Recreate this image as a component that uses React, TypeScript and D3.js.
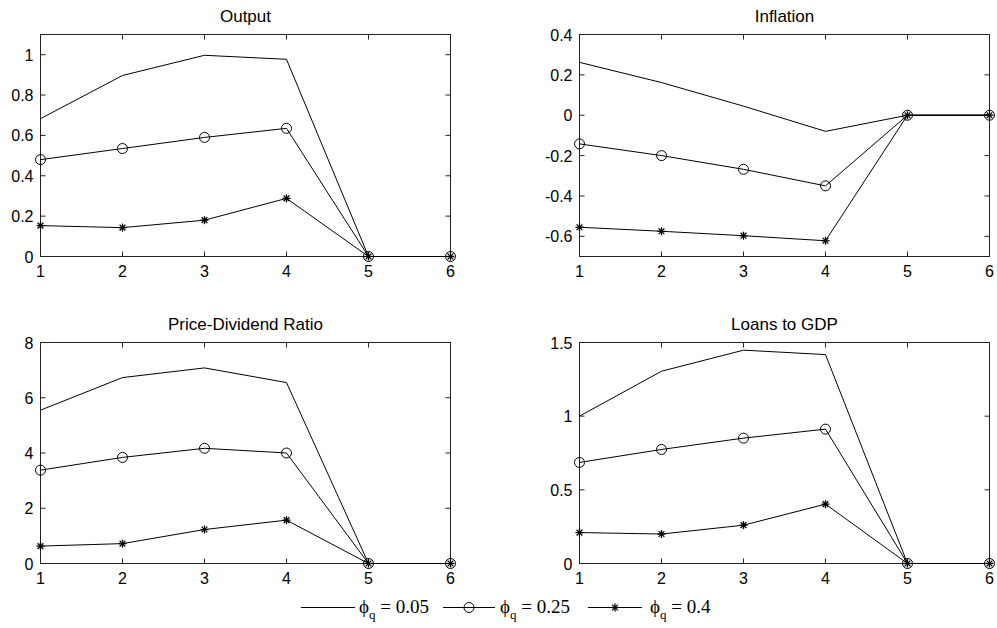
import React from "react";
import * as d3 from "d3";

const periods = [1, 2, 3, 4, 5, 6];
const xTicks = [1, 2, 3, 4, 5, 6];

const titles = ["Output", "Inflation", "Price-Dividend Ratio", "Loans to GDP"];

const output005 = [0.683, 0.897, 0.997, 0.977, 0, 0];
const output025 = [0.48, 0.535, 0.59, 0.635, 0, 0];
const output04 = [0.153, 0.143, 0.18, 0.288, 0, 0];

const infl005 = [0.262, 0.162, 0.045, -0.08, 0, 0];
const infl025 = [-0.142, -0.2, -0.268, -0.35, 0, 0];
const infl04 = [-0.555, -0.575, -0.597, -0.622, 0, 0];

const pd005 = [5.55, 6.73, 7.08, 6.55, 0, 0];
const pd025 = [3.38, 3.84, 4.17, 4.0, 0, 0];
const pd04 = [0.63, 0.72, 1.23, 1.57, 0, 0];

const loans005 = [1.0, 1.305, 1.448, 1.418, 0, 0];
const loans025 = [0.686, 0.774, 0.851, 0.912, 0, 0];
const loans04 = [0.21, 0.2, 0.26, 0.403, 0, 0];

const yDomains: [number, number][] = [
  [0, 1.1],
  [-0.7, 0.4],
  [0, 8],
  [0, 1.5],
];
const yTickValues = [
  [0, 0.2, 0.4, 0.6, 0.8, 1],
  [-0.6, -0.4, -0.2, 0, 0.2, 0.4],
  [0, 2, 4, 6, 8],
  [0, 0.5, 1, 1.5],
];
const yTickLabels = [
  ["0", "0.2", "0.4", "0.6", "0.8", "1"],
  ["-0.6", "-0.4", "-0.2", "0", "0.2", "0.4"],
  ["0", "2", "4", "6", "8"],
  ["0", "0.5", "1", "1.5"],
];

const legendLabels = ["0.05", "0.25", "0.4"];
const markerTypes = ["none", "circle", "star"];

const panelSeries = [
  [output005, output025, output04],
  [infl005, infl025, infl04],
  [pd005, pd025, pd04],
  [loans005, loans025, loans04],
];

// layout
const colX = [
  [40.5, 450.5],
  [579.5, 989.5],
];
const rowY = [
  [34.5, 256.5],
  [342.5, 563.5],
];
const TICK = 5;
const sans = "'Liberation Sans', Arial, sans-serif";
const serif = "'Liberation Serif', 'Times New Roman', serif";

function Marker({ type, x, y }: { type: string; x: number; y: number }) {
  if (type === "circle") {
    return <circle cx={x} cy={y} r={5} fill="none" stroke="#000" strokeWidth={1} />;
  }
  if (type === "star") {
    const r = 4;
    const d = r * 0.72;
    return (
      <g stroke="#000" strokeWidth={1.3}>
        <line x1={x - r} y1={y} x2={x + r} y2={y} />
        <line x1={x} y1={y - r} x2={x} y2={y + r} />
        <line x1={x - d} y1={y - d} x2={x + d} y2={y + d} />
        <line x1={x - d} y1={y + d} x2={x + d} y2={y - d} />
      </g>
    );
  }
  return null;
}

function Panel({ idx }: { idx: number }) {
  const col = idx % 2;
  const row = Math.floor(idx / 2);
  const [x0, x1] = colX[col];
  const [y0, y1] = rowY[row];
  const xs = d3.scaleLinear().domain([1, 6]).range([x0, x1]);
  const ys = d3.scaleLinear().domain(yDomains[idx]).range([y1, y0]);
  const line = d3
    .line<number>()
    .x((_, i) => xs(periods[i]))
    .y((v) => ys(v));
  const series = panelSeries[idx];
  return (
    <g>
      <text
        x={(x0 + x1) / 2}
        y={y0 - 13}
        textAnchor="middle"
        fontFamily={sans}
        fontSize={17}
        fill="#000"
      >
        {titles[idx]}
      </text>
      <rect x={x0} y={y0} width={x1 - x0} height={y1 - y0} fill="none" stroke="#222" strokeWidth={1} />
      {xTicks.map((t) => (
        <g key={"x" + t}>
          <line x1={xs(t)} x2={xs(t)} y1={y1} y2={y1 - TICK} stroke="#222" />
          <line x1={xs(t)} x2={xs(t)} y1={y0} y2={y0 + TICK} stroke="#222" />
          <text x={xs(t)} y={y1 + 20} textAnchor="middle" fontFamily={sans} fontSize={16} fill="#000">
            {t}
          </text>
        </g>
      ))}
      {yTickValues[idx].map((t, i) => (
        <g key={"y" + t}>
          <line x1={x0} x2={x0 + TICK} y1={ys(t)} y2={ys(t)} stroke="#222" />
          <line x1={x1} x2={x1 - TICK} y1={ys(t)} y2={ys(t)} stroke="#222" />
          <text x={x0 - 7} y={ys(t) + 6} textAnchor="end" fontFamily={sans} fontSize={16} fill="#000">
            {yTickLabels[idx][i]}
          </text>
        </g>
      ))}
      {series.map((s, si) => (
        <g key={"s" + si}>
          <path d={line(s) || ""} fill="none" stroke="#000" strokeWidth={1} />
          {s.map((v, i) => (
            <Marker key={i} type={markerTypes[si]} x={xs(periods[i])} y={ys(v)} />
          ))}
        </g>
      ))}
    </g>
  );
}

const legendLineX = [
  [301, 355],
  [443, 495],
  [588, 642],
];
const legendTextX = [359, 500, 650];

function Legend() {
  const y = 607.5;
  return (
    <g>
      {legendLabels.map((lab, i) => (
        <g key={lab}>
          <line x1={legendLineX[i][0]} x2={legendLineX[i][1]} y1={y} y2={y} stroke="#000" strokeWidth={1} />
          <Marker type={markerTypes[i]} x={(legendLineX[i][0] + legendLineX[i][1]) / 2} y={y} />
          <text x={legendTextX[i]} y={y + 5} fontFamily={serif} fontSize={19} fill="#000">
            ϕ
            <tspan fontSize={13} dy={6}>
              q
            </tspan>
            <tspan dy={-6}>{" = " + lab}</tspan>
          </text>
        </g>
      ))}
    </g>
  );
}

export default function App() {
  return (
    <svg
      width={997}
      height={628}
      style={{ position: "absolute", left: 0, top: 0, background: "#fff" }}
    >
      <rect width={997} height={628} fill="#fff" />
      {[0, 1, 2, 3].map((i) => (
        <Panel key={i} idx={i} />
      ))}
      <Legend />
    </svg>
  );
}
